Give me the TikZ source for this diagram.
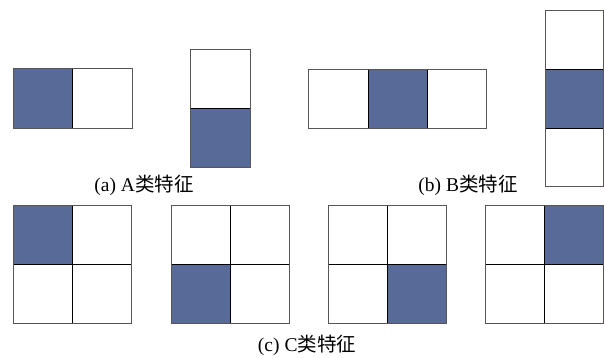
\documentclass[tikz,border=0pt]{standalone}
\usepackage{fontspec}
\setmainfont{Liberation Serif}
\newfontfamily\cjk{Noto Sans CJK SC}
\definecolor{cellblue}{RGB}{88,106,152}
\definecolor{edgegrey}{RGB}{90,85,85}
\tikzset{
  cellw/.style={draw=black,line width=0.9pt,fill=white},
  cellb/.style={draw=black,line width=0.9pt,fill=cellblue},
  outerbox/.style={draw=edgegrey,line width=1pt},
  caption/.style={font=\fontsize{19.5}{22}\selectfont,inner sep=0pt}
}
\begin{document}
\begin{tikzpicture}[x=1pt,y=-1pt]
\useasboundingbox[fill=white] (0,0) rectangle (604,357);
% (a) A class
\draw[cellb] (13,68) rectangle (72,128);
\draw[cellw] (72,68) rectangle (132,128);
\draw[outerbox] (13,68) rectangle (132,128);
\draw[cellw] (190,49) rectangle (250,108);
\draw[cellb] (190,108) rectangle (250,167);
\draw[outerbox] (190,49) rectangle (250,167);
\node[caption] (capa) at (144,185) {(a) A{\cjk 类特征}};
% (b) B class
\draw[cellw] (308,69) rectangle (368,128);
\draw[cellb] (368,69) rectangle (427,128);
\draw[cellw] (427,69) rectangle (486,128);
\draw[outerbox] (308,69) rectangle (486,128);
\draw[cellw] (545,10) rectangle (603.5,69);
\draw[cellb] (545,69) rectangle (603.5,128);
\draw[cellw] (545,128) rectangle (603.5,186);
\draw[outerbox] (545,10) rectangle (603.5,186);
\node[caption] (capb) at (468,185) {(b) B{\cjk 类特征}};
% (c) C class
\foreach \x/\bx/\by in {13/0/0, 171/0/1, 328/1/1, 485.5/1/0} {
  \draw[cellw] (\x,205) rectangle ++(59,59);
  \draw[cellw] (\x+59,205) rectangle ++(59,59);
  \draw[cellw] (\x,264) rectangle ++(59,59);
  \draw[cellw] (\x+59,264) rectangle ++(59,59);
  \draw[cellb] (\x+59*\bx,205+59*\by) rectangle ++(59,59);
  \draw[outerbox] (\x,205) rectangle ++(118,118);
}
\node[caption] (capc) at (307,345) {(c) C{\cjk 类特征}};
\end{tikzpicture}
\end{document}
